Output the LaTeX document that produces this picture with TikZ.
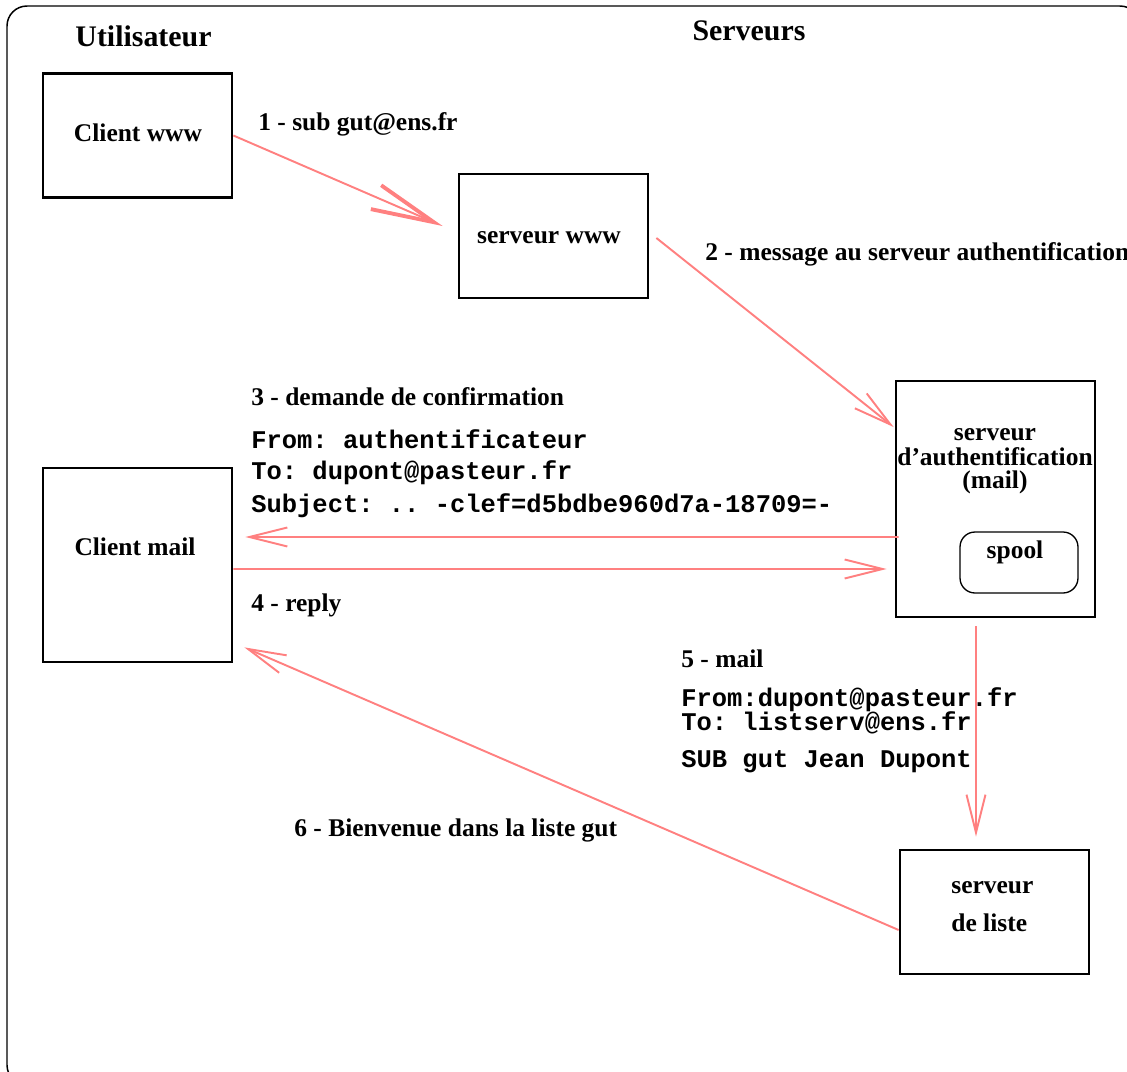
\documentclass[tikz,border=0pt]{standalone}
\usepackage{fontspec}
\setmainfont{Liberation Serif}
\setmonofont{Liberation Mono}
\usetikzlibrary{positioning,arrows.meta}
\definecolor{flux}{RGB}{255,128,128}

\begin{document}
\begin{tikzpicture}[x=0.02cm,y=-0.02cm,
  boite/.style={draw,line width=1.6pt,minimum width=3.78cm,minimum height=2.48cm,inner sep=0pt,
    font=\fontsize{14.5}{17}\selectfont\bfseries},
  titre/.style={anchor=base,inner sep=0pt,font=\fontsize{17}{20}\selectfont\bfseries},
  etiq/.style={anchor=base west,inner sep=0pt,font=\fontsize{14.5}{17}\selectfont\bfseries},
  code/.style={anchor=base west,inner sep=0pt,font=\fontsize{14.5}{17}\selectfont\ttfamily\bfseries},
  fleche/.style={draw=flux,line width=1.1pt,-{Straight Barb[length=0.76cm,width=0.38cm]}}]

  \useasboundingbox (0,0) rectangle (1127,1072);
  \clip (0,0) rectangle (1127,1072);
  \draw [line width=0.85pt,rounded corners=0.4cm] (7,6) rectangle (1140,1085);

  % Titres
  \node [titre] (util) at (143.5,46) {Utilisateur};
  \node [titre] (serv) at (749,40) {Serveurs};

  % Boites
  \node [boite] (cw) at (137.5,135.5) {};
  \node [boite] (sw) at (553.5,236) {};
  \node [boite,minimum width=3.98cm,minimum height=4.72cm] (auth) at (995.5,499) {};
  \node [boite,minimum height=3.88cm] (cm) at (137.5,565) {};
  \node [boite] (liste) at (994.5,912) {};
  \node [draw,line width=0.75pt,rounded corners=0.3cm,minimum width=2.36cm,
    minimum height=1.22cm] (spool) at (1019,562.5) {};

  \node [etiq,anchor=base] (cwT) at (138,141) {Client www};
  \node [etiq,anchor=base] (swT) at (549,243) {serveur www};
  \node [etiq,anchor=base] (authA) at (995,440) {serveur};
  \node [etiq,anchor=base] (authB) at (995,465) {d'authentification};
  \node [etiq,anchor=base] (authC) at (995,488) {(mail)};
  \node [etiq,anchor=base] (spoolT) at (1015,558) {spool};
  \node [etiq,anchor=base] (cmT) at (135,555) {Client mail};
  \node [etiq] (listeA) at (951,893) {serveur};
  \node [etiq] (listeB) at (951,931) {de liste};

  % Message 1
  \node [coordinate,above left=0.2cm and 0.3cm of sw.west] (b1) {};
  \draw [fleche,-{Straight Barb[length=1.26cm,width=0.52cm,line width=2.2pt]}] (cw.east) -- (b1);
  \node [etiq] (l1) at (258,130) {1 - sub gut@ens.fr};

  % Message 2
  \node [coordinate,below right=0.04cm and 0.14cm of sw.east] (a2) {};
  \node [coordinate,above left=1.44cm and 0.02cm of auth.west] (b2) {};
  \draw [fleche] (a2) -- (b2);
  \node [etiq] (l2) at (705,260) {2 - message au serveur authentification};

  % Message 3
  \node [coordinate,below right=0.76cm and 0.08cm of auth.west] (a3) {};
  \node [coordinate,above right=0.56cm and 0.24cm of cm.east] (b3) {};
  \draw [fleche] (a3) -- (b3);
  \node [etiq] (l3) at (251,405) {3 - demande de confirmation};
  \node [code] (c3a) at (251,448) {From: authentificateur};
  \node [code] (c3b) at (251,479) {To: dupont@pasteur.fr};
  \node [code] (c3c) at (251,512) {Subject: .. -clef=d5bdbe960d7a-18709=-};

  % Message 4
  \node [coordinate,below=0.08cm of cm.east] (a4) {};
  \node [coordinate,below left=1.4cm and 0.16cm of auth.west] (b4) {};
  \draw [fleche] (a4) -- (b4);
  \node [etiq] (l4) at (251,611) {4 - reply};

  % Message 5
  \node [coordinate,below left=0.16cm and 0.39cm of auth.south] (a5) {};
  \node [coordinate,above left=0.24cm and 0.37cm of liste.north] (b5) {};
  \draw [fleche] (a5) -- (b5);
  \node [etiq] (l5) at (681,667) {5 - mail};
  \node [code] (c5a) at (681,706) {From:dupont@pasteur.fr};
  \node [code] (c5b) at (681,730) {To: listserv@ens.fr};
  \node [code] (c5c) at (681,767) {SUB gut Jean Dupont};

  % Message 6
  \node [coordinate,below=0.36cm of liste.west] (a6) {};
  \node [coordinate,above right=0.32cm and 0.22cm of cm.south east] (b6) {};
  \draw [fleche] (a6) -- (b6);
  \node [etiq] (l6) at (294,836) {6 - Bienvenue dans la liste gut};

\end{tikzpicture}
\end{document}
